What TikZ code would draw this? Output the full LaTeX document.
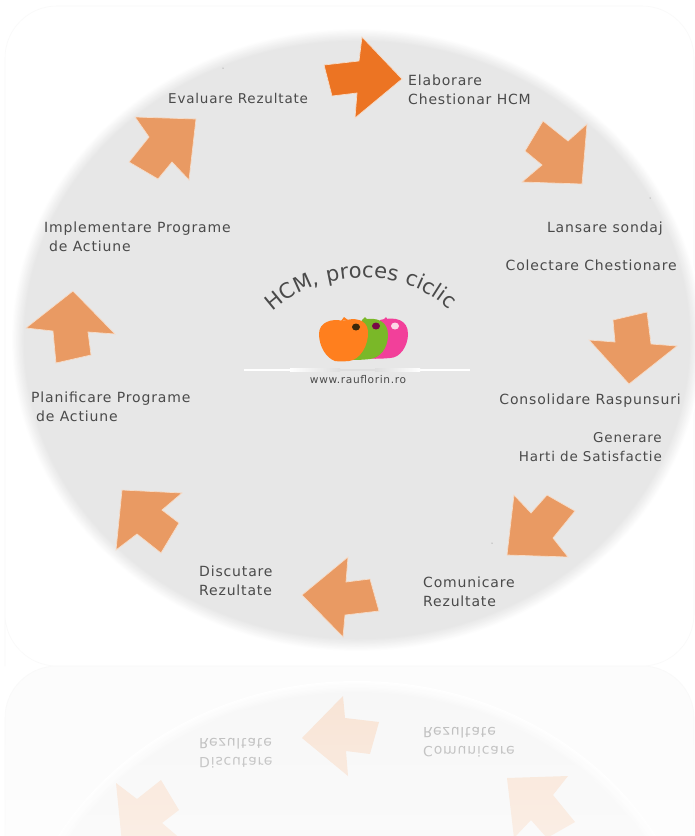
\documentclass[tikz,border=0pt]{standalone}
\usepackage{fontspec}
\setmainfont[LetterSpace=6]{DejaVu Sans}
\newfontfamily\titlefont[LetterSpace=4]{DejaVu Sans}
\usetikzlibrary{decorations.text}
\definecolor{txt}{HTML}{4A4A4A}
\definecolor{arrowlight}{HTML}{E99A63}
\definecolor{arrowdark}{HTML}{EC7423}
\definecolor{halo}{HTML}{F6DCC8}
\definecolor{framecol}{HTML}{F9F9F9}
\definecolor{refarrow}{HTML}{F8E2D2}
\definecolor{reftxt}{HTML}{B4B4B4}
\definecolor{applepink}{RGB}{242,64,154}
\definecolor{applegreen}{RGB}{122,184,40}
\definecolor{appleorange}{RGB}{255,127,30}
\definecolor{holedark}{RGB}{60,40,10}
\definecolor{holemaroon}{RGB}{120,10,70}
\definecolor{holepale}{RGB}{252,215,230}
\tikzset{
  lbl/.style={font=\fontsize{14}{19}\selectfont, text=txt, inner sep=0pt, align=left},
  lblr/.style={lbl, align=right},
  lblsmall/.style={font=\fontsize{13.5}{19}\selectfont},
  cyc/.style={fill=arrowlight, draw=halo, line width=0.7pt, line join=miter},
  cycact/.style={fill=arrowdark, draw=halo, line width=0.7pt},
  mir/.style={fill=refarrow},
  speck/.style={fill=black!55, inner sep=0pt, minimum size=1pt, circle},
  framebox/.style={draw=framecol, line width=0.6pt, fill=white}
}
\newcommand{\softdisc}[1]{%
  \foreach \i in {0,...,10}{%
    \pgfmathsetmacro{\shadeval}{\i*#1}%
    \pgfmathsetmacro{\rxv}{346-\i*1.3}%
    \pgfmathsetmacro{\ryv}{312-\i*1.3}%
    \fill[black!\shadeval] (357,340) ellipse [x radius=\rxv, y radius=\ryv];
  }}
\newcommand{\arrowfour}{(514,495) -- (531,513) -- (547,495) -- (575,511) -- (553,538) -- (568,557) -- (507,555) -- cycle}
\newcommand{\arrowfive}{(302,595) -- (348,557) -- (346,582) -- (370,579) -- (379,611) -- (345,615) -- (343,637) -- cycle}
\newcommand{\arrowsix}{(122,490) -- (182,493) -- (162,510) -- (179,523) -- (161,553) -- (137,534) -- (116,550) -- cycle}
\begin{document}
\begin{tikzpicture}[x=1pt,y=-1pt]
\useasboundingbox (0,0) rectangle (695,836);
\fill[white] (0,0) rectangle (695,836);
% frame
\draw[framebox] (5,666) -- (5,58) arc[start angle=180,end angle=90,x radius=52,y radius=-52] -- (642,6) arc[start angle=90,end angle=0,x radius=52,y radius=-52] -- (694,614) arc[start angle=0,end angle=-90,x radius=52,y radius=-52] -- (57,666) arc[start angle=-90,end angle=-180,x radius=52,y radius=-52] -- cycle;
% reflection
\begin{scope}
  \clip (0,666) rectangle (695,836);
  \draw[framecol, fill=black!1.2, line width=0.6pt] (5,840) -- (5,718) arc[start angle=180,end angle=90,x radius=52,y radius=-52] -- (642,666) arc[start angle=90,end angle=0,x radius=52,y radius=-52] -- (694,840) -- cycle;
  \begin{scope}[cm={1,0,0,-1,(0pt,-1333pt)}]
    \softdisc{0.33}
    \fill[mir] \arrowfour;
    \fill[mir] \arrowfive;
    \fill[mir] \arrowsix;
    \node[lbl, text=reftxt, anchor=west, transform shape] (mcom) at (423,591) {Comunicare\\Rezultate};
    \node[lbl, text=reftxt, anchor=west, transform shape] (mdis) at (199,580) {Discutare\\Rezultate};
  \end{scope}
  \foreach \s in {0,...,33}{%
    \pgfmathsetmacro{\op}{0.03+\s*0.012}%
    \fill[white, opacity=\op] (0,670+\s*5) rectangle (695,675+\s*5);
  }
\end{scope}
% disc
\softdisc{0.95}
% arrows
\path[cycact] (324,65) -- (359,61) -- (362,37) -- (402,79) -- (355,118) -- (357,93) -- (332,96) -- cycle;
\path[cyc] (543,121) -- (568,141) -- (587,124) -- (582,184) -- (522,182) -- (542,165) -- (525,151) -- cycle;
\path[cyc] (647,312) -- (613,320) -- (615,342) -- (589,340) -- (629,384) -- (677,346) -- (651,344) -- cycle;
\path[cyc] \arrowfour;
\path[cyc] \arrowfive;
\path[cyc] \arrowsix;
\path[cyc] (73,291) -- (115,334) -- (88,332) -- (91,355) -- (56,363) -- (53,331) -- (26,328) -- cycle;
\path[cyc] (135,117) -- (196,119) -- (189,180) -- (172,162) -- (158,179) -- (129,162) -- (149,137) -- cycle;
% labels
\node[lbl, lblsmall, anchor=west] (evaluare) at (168,98) {Evaluare Rezultate};
\node[lbl, anchor=west] (elaborare) at (408,90) {Elaborare\\Chestionar HCM};
\node[lbl, anchor=east] (lansare) at (663,229) {Lansare sondaj};
\node[lbl, anchor=east] (colectare) at (677,265) {Colectare Chestionare};
\node[lbl, anchor=east] (consolidare) at (681,401) {Consolidare Raspunsuri};
\node[lblr, lblsmall, anchor=east] (generare) at (662,447) {Generare\\Harti de Satisfactie};
\node[lbl, anchor=west] (comunicare) at (423,592) {Comunicare\\Rezultate};
\node[lbl, anchor=west] (discutare) at (199,581) {Discutare\\Rezultate};
\node[lbl, anchor=west] (planificare) at (31,407) {Planificare Programe\\\hspace*{5pt}de Actiune};
\node[lbl, anchor=west] (implementare) at (44,237) {Implementare Programe\\\hspace*{5pt}de Actiune};
% specks
\node[speck] (s1) at (223,68) {};
\node[speck] (s2) at (650,198) {};
\node[speck] (s3) at (492,543) {};
% title
\path[decorate, decoration={text along path, text align=center,
  text={|\titlefont\fontsize{21}{21}\selectfont\color{txt}|HCM, proces ciclic}}]
  (256,332) .. controls (300,262) and (420,258) .. (466,330);
% logo
\fill[applepink] (380,320) .. controls (396,316) and (408,320) .. (408,334) .. controls (408,346) and (400,358) .. (390,358) .. controls (380,359) and (370,359) .. (362,358) -- cycle;
\fill[applepink] (383,320) -- (386,317) -- (388,320) -- cycle;
\fill[applegreen] (362,320) .. controls (378,316) and (388,322) .. (388,335) .. controls (388,348) and (380,358) .. (370,359) .. controls (362,360) and (354,360) .. (348,360) -- cycle;
\fill[applegreen] (362,320) -- (365,317) -- (368,320) -- cycle;
\fill[appleorange] (343,321) .. controls (354,317) and (367,319) .. (368,331) .. controls (369,345) and (360,360) .. (349,361) .. controls (344,361.5) and (338,361.5) .. (335,361) .. controls (326,358) and (319,346) .. (319,334) .. controls (319,322) and (332,318) .. (343,321) -- cycle;
\fill[appleorange] (341,321) -- (344,317) -- (348,320) -- cycle;
\fill[holedark] (356,327) ellipse [x radius=4, y radius=3.5];
\fill[holemaroon] (376,326) ellipse [x radius=4, y radius=3.5];
\fill[holepale] (395,326) ellipse [x radius=4, y radius=3.5];
% divider
\fill[white] (244,368.5) rectangle (470,371);
\shade[left color=white, right color=black!13] (290,368.5) rectangle (340,371);
\fill[black!13] (340,368.5) rectangle (375,371);
\shade[left color=black!13, right color=white] (375,368.5) rectangle (420,371);
\node[lbl, font=\fontsize{10.6}{12}\selectfont, anchor=center] (site) at (358,380) {www.rauflorin.ro};
\end{tikzpicture}
\end{document}
